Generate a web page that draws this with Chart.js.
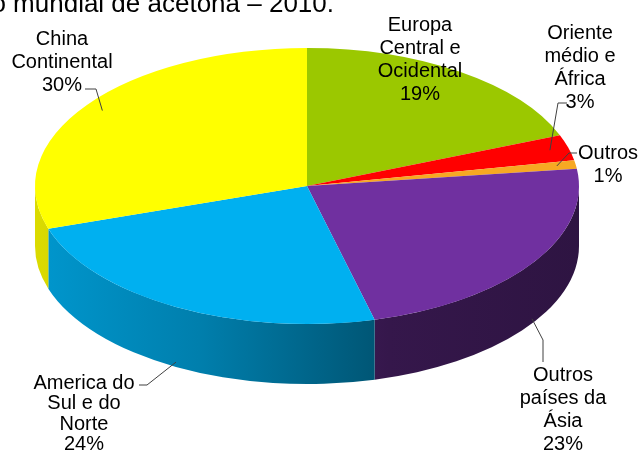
<!DOCTYPE html>
<html>
<head>
<meta charset="utf-8">
<script src="https://cdn.jsdelivr.net/npm/chart.js@4.4.0/dist/chart.umd.min.js"></script>
<style>
  html, body { margin: 0; padding: 0; background: #fff; overflow: hidden; }
  #wrap { position: relative; width: 642px; height: 457px; }
</style>
</head>
<body>
<div id="wrap"><canvas id="pie" width="642" height="457"></canvas></div>
<script>
// Data: regions clockwise from 12 o'clock, share in %
const regions = [
  ["Europa", "Central e", "Ocidental"],
  ["Oriente", "médio e", "África"],
  ["Outros"],
  ["Outros", "países da", "Ásia"],
  ["America do", "Sul e do", "Norte"],
  ["China", "Continental"]
];
const shares = [19, 3, 1, 23, 24, 30];
const chartTitle = "Produção mundial de acetona – 2010.";

const sliceColors = ["#9bc800", "#ff0000", "#f7a823", "#7030a0", "#00b0f0", "#ffff00"];

// 3D look: ellipse radii of the top face and height of the side wall
const RX = 272;
const RY = 138;
const DEPTH = 60;
const FONT = '"Liberation Sans", Arial, sans-serif';

// label placement (centre x, first line y, line height) and leader start/elbow
const labelLayout = [
  { x: 420, y: 25, lh: 23 },
  { x: 580, y: 33, lh: 23, from: [567, 103], elbow: [558, 103] },
  { x: 608, y: 153, lh: 23, from: [577, 153], elbow: [569, 153] },
  { x: 563, y: 375, lh: 23, from: [543, 362], elbow: [543, 340] },
  { x: 84, y: 383, lh: 20.5, from: [139, 385], elbow: [147, 385] },
  { x: 62, y: 39, lh: 23, from: [85, 89], elbow: [96, 89] }
];

function shade(hex, f) {
  const n = parseInt(hex.slice(1), 16);
  const r = Math.round(((n >> 16) & 255) * f);
  const g = Math.round(((n >> 8) & 255) * f);
  const b = Math.round((n & 255) * f);
  return `rgb(${r}, ${g}, ${b})`;
}

function faceGeometry(chart) {
  const arc = chart.getDatasetMeta(0).data[0];
  return { cx: arc.x, cy: arc.y, r: arc.outerRadius };
}

// point on the slice used as leader target (front slices: down on the wall)
function leaderTarget(arc, geo) {
  const mid = (arc.startAngle + arc.endAngle) / 2;
  const front = Math.sin(mid) > 0;
  const k = front ? 1 : 0.93;
  return [
    geo.cx + Math.cos(mid) * RX * k,
    geo.cy + Math.sin(mid) * RY * k + (front ? DEPTH * 0.92 : 0)
  ];
}

const pie3d = {
  id: "pie3d",
  beforeDatasetsDraw(chart) {
    const ctx = chart.ctx;
    const meta = chart.getDatasetMeta(0);
    const geo = faceGeometry(chart);

    // side wall, only the front half is visible
    meta.data.forEach((arc, i) => {
      const a = Math.max(arc.startAngle, 0);
      const b = Math.min(arc.endAngle, Math.PI);
      if (b <= a) return;
      const col = sliceColors[i];
      const grad = ctx.createLinearGradient(geo.cx - RX, 0, geo.cx + RX, 0);
      grad.addColorStop(0, shade(col, 0.86));
      grad.addColorStop(0.3, shade(col, 0.72));
      grad.addColorStop(0.5, shade(col, 0.58));
      grad.addColorStop(0.65, shade(col, 0.47));
      grad.addColorStop(1, shade(col, 0.41));
      ctx.save();
      ctx.beginPath();
      ctx.ellipse(geo.cx, geo.cy, RX, RY, 0, a, b);
      ctx.ellipse(geo.cx, geo.cy + DEPTH, RX, RY, 0, b, a, true);
      ctx.closePath();
      ctx.fillStyle = grad;
      ctx.fill();
      ctx.restore();
    });

    // top face: library arcs squashed into the ellipse
    ctx.save();
    ctx.translate(geo.cx, geo.cy);
    ctx.scale(RX / geo.r, RY / geo.r);
    ctx.translate(-geo.cx, -geo.cy);
  },
  afterDatasetsDraw(chart) {
    chart.ctx.restore();
  },
  afterDraw(chart) {
    const ctx = chart.ctx;
    const meta = chart.getDatasetMeta(0);
    const geo = faceGeometry(chart);

    ctx.save();
    ctx.fillStyle = "#000";
    ctx.font = `26px ${FONT}`;
    ctx.textAlign = "right";
    ctx.textBaseline = "alphabetic";
    ctx.fillText(chartTitle, 334, 12);

    ctx.font = `20px ${FONT}`;
    ctx.textAlign = "center";
    ctx.textBaseline = "middle";
    chart.data.labels.forEach((lines, i) => {
      const lay = labelLayout[i];
      const all = lines.concat([chart.data.datasets[0].data[i] + "%"]);
      all.forEach((t, j) => ctx.fillText(t, lay.x, lay.y + j * lay.lh));

      if (lay.from) {
        const end = leaderTarget(meta.data[i], geo);
        ctx.beginPath();
        ctx.moveTo(lay.from[0], lay.from[1]);
        ctx.lineTo(lay.elbow[0], lay.elbow[1]);
        ctx.lineTo(end[0], end[1]);
        ctx.strokeStyle = "#404040";
        ctx.lineWidth = 1;
        ctx.stroke();
      }
    });
    ctx.restore();
  }
};

new Chart(document.getElementById("pie"), {
  type: "pie",
  data: {
    labels: regions,
    datasets: [{
      data: shares,
      backgroundColor: sliceColors,
      borderWidth: 0,
      hoverOffset: 0,
      clip: false
    }]
  },
  options: {
    responsive: false,
    animation: false,
    devicePixelRatio: 1,
    events: [],
    layout: {
      // puts the pie centre at (307, 186) with radius RY
      padding: { top: 48, bottom: 133, left: 169, right: 197 }
    },
    plugins: {
      legend: { display: false },
      tooltip: { enabled: false }
    }
  },
  plugins: [pie3d]
});
</script>
</body>
</html>
